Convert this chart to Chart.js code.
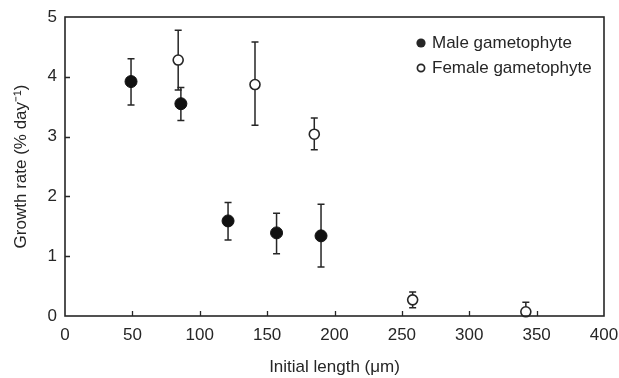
<!DOCTYPE html>
<html>
<head>
<meta charset="utf-8">
<script src="https://cdn.jsdelivr.net/npm/chart.js@4.4.1/dist/chart.umd.min.js"></script>
<style>
  html, body { margin: 0; padding: 0; background: #fff; }
  #wrap { width: 619px; height: 378px; }
</style>
</head>
<body>
<div id="wrap"><canvas id="c" width="619" height="378"></canvas></div>
<script>
// initial length (um) vs growth rate (% day-1), bars = error range
const maleX = [49, 86, 121, 157, 190];
const maleY = [3.92, 3.55, 1.59, 1.39, 1.34];
const maleLo = [3.53, 3.27, 1.27, 1.04, 0.82];
const maleHi = [4.30, 3.82, 1.90, 1.72, 1.87];

const femaleX = [84, 141, 185, 258, 342];
const femaleY = [4.28, 3.87, 3.04, 0.27, 0.07];
const femaleLo = [3.78, 3.19, 2.78, 0.14, 0.0];
const femaleHi = [4.78, 4.58, 3.31, 0.40, 0.23];

const xTicks = [0, 50, 100, 150, 200, 250, 300, 350, 400];
const yTicks = [0, 1, 2, 3, 4, 5];
const seriesNames = ["Male gametophyte", "Female gametophyte"];

const INK = "#262626";
const FONT = "'Liberation Sans', Arial, sans-serif";

const pts = (xs, ys) => xs.map((x, i) => ({ x, y: ys[i] }));

// error bars, drawn before the points so the markers sit on top
const errorBars = {
  id: "errorBars",
  beforeDatasetsDraw(chart) {
    const { ctx, scales: { x, y } } = chart;
    const sets = [[maleX, maleLo, maleHi], [femaleX, femaleLo, femaleHi]];
    ctx.save();
    ctx.strokeStyle = INK;
    ctx.lineWidth = 1.5;
    for (const [xs, lo, hi] of sets) {
      xs.forEach((v, i) => {
        const px = x.getPixelForValue(v);
        const top = y.getPixelForValue(hi[i]), bot = y.getPixelForValue(lo[i]);
        ctx.beginPath();
        ctx.moveTo(px, top); ctx.lineTo(px, bot);
        ctx.moveTo(px - 3.5, top); ctx.lineTo(px + 3.5, top);
        if (lo[i] > 0) { ctx.moveTo(px - 3.5, bot); ctx.lineTo(px + 3.5, bot); }
        ctx.stroke();
      });
    }
    ctx.restore();
  },
};

// frame, inward ticks and the legend in the upper right
const frame = {
  id: "frame",
  afterDraw(chart) {
    const { ctx, chartArea: a, scales: { x, y } } = chart;
    ctx.save();
    ctx.strokeStyle = INK;
    ctx.lineWidth = 1.6;
    ctx.strokeRect(a.left, a.top, a.right - a.left, a.bottom - a.top);
    ctx.lineWidth = 1.3;
    ctx.beginPath();
    for (const t of xTicks.slice(1, -1)) {
      const px = Math.round(x.getPixelForValue(t)) + 0.5;
      ctx.moveTo(px, a.bottom); ctx.lineTo(px, a.bottom - 5);
    }
    for (const t of yTicks.slice(1, -1)) {
      const py = Math.round(y.getPixelForValue(t)) + 0.5;
      ctx.moveTo(a.left, py); ctx.lineTo(a.left + 5, py);
    }
    ctx.stroke();

    ctx.font = "17px " + FONT;
    ctx.fillStyle = INK;
    ctx.textBaseline = "middle";
    ctx.textAlign = "left";
    const lx = 421, ly = [43, 68];
    ctx.beginPath(); ctx.arc(lx, ly[0], 4.6, 0, Math.PI * 2); ctx.fill();
    ctx.lineWidth = 1.7;
    ctx.beginPath(); ctx.arc(lx, ly[1], 3.6, 0, Math.PI * 2); ctx.stroke();
    ctx.fillText(seriesNames[0], lx + 11, ly[0]);
    ctx.fillText(seriesNames[1], lx + 11, ly[1]);
    ctx.restore();
  },
};

new Chart(document.getElementById("c"), {
  type: "scatter",
  data: {
    datasets: [
      { label: seriesNames[0], data: pts(maleX, maleY), pointRadius: 6, pointBackgroundColor: "#111",
        pointBorderColor: "#111", pointBorderWidth: 1 },
      { label: seriesNames[1], data: pts(femaleX, femaleY), pointRadius: 5, pointBackgroundColor: "#fff",
        pointBorderColor: INK, pointBorderWidth: 1.6 },
    ],
  },
  options: {
    responsive: false,
    animation: false,
    clip: false,
    layout: { padding: { left: 0, right: 15, top: 17, bottom: 0 } },
    plugins: { legend: { display: false }, tooltip: { enabled: false } },
    scales: {
      x: {
        type: "linear", min: 0, max: 400,
        afterBuildTicks: (s) => { s.ticks = xTicks.map((v) => ({ value: v })); },
        afterFit: (s) => { s.height = 62; s.paddingLeft = 0; s.paddingRight = 0; },
        grid: { display: false, drawTicks: false },
        border: { display: false },
        ticks: { color: INK, font: { family: FONT, size: 17 }, padding: 9, maxRotation: 0 },
        title: { display: true, text: "Initial length (\u03bcm)", color: INK,
          font: { family: FONT, size: 17 }, padding: { top: 10, bottom: 0 } },
      },
      y: {
        type: "linear", min: 0, max: 5,
        afterBuildTicks: (s) => { s.ticks = yTicks.map((v) => ({ value: v })); },
        afterFit: (s) => { s.width = 65; s.paddingTop = 0; s.paddingBottom = 0; },
        grid: { display: false, drawTicks: false },
        border: { display: false },
        ticks: { color: INK, font: { family: FONT, size: 17 }, padding: 8 },
        title: { display: true, text: "Growth rate (% day\u207b\u00b9)", color: INK,
          font: { family: FONT, size: 17 }, padding: { top: 11, bottom: 0 } },
      },
    },
  },
  plugins: [errorBars, frame],
});
</script>
</body>
</html>
